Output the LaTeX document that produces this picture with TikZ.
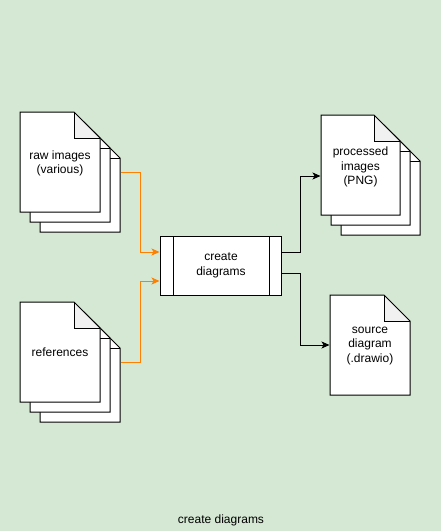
\documentclass[tikz,border=0pt]{standalone}
\usepackage{fontspec}
\setmainfont{Liberation Sans}
\usetikzlibrary{arrows.meta}
\definecolor{bg}{HTML}{D5E8D4}
\definecolor{foldgray}{HTML}{F1F1F1}
\definecolor{orng}{HTML}{FF8000}
\newcommand\docpage[5]{%
  \fill[white] (#1,#2) -- (#3-26,#2) -- (#3,#2+26) -- (#3,#4) -- (#1,#4) -- cycle;
  \fill[#5] (#3-26,#2) -- (#3-26,#2+26) -- (#3,#2+26) -- cycle;
  \draw (#3-26,#2) -- (#3-26,#2+26) -- (#3,#2+26);
  \draw (#1,#2) -- (#3-26,#2) -- (#3,#2+26) -- (#3,#4) -- (#1,#4) -- cycle;
}
\newcommand\docstack[4]{% x0 y0 x1 y1 of front page
  \docpage{#1+20}{#2+20}{#3+20}{#4+20}{white}
  \docpage{#1+10}{#2+10}{#3+10}{#4+10}{white}
  \docpage{#1}{#2}{#3}{#4}{foldgray}
}
\tikzset{
  lbl/.style={align=center, font=\fontsize{12}{14.5}\selectfont, inner sep=0pt},
  area/.style={inner sep=0pt, draw=none},
  orangeflow/.style={draw=orng, line width=1pt, -{Stealth[length=8pt,width=7pt,inset=2pt]}},
  blackflow/.style={draw=black, line width=1pt, -{Stealth[length=8pt,width=7pt,inset=2pt]}},
}
\begin{document}
\begin{tikzpicture}[x=1pt, y=-1pt, line width=1pt, line join=miter]
\useasboundingbox (0,0) rectangle (441,531);
\fill[bg] (0,0) rectangle (441,531);

% raw images stack
\docstack{20}{112}{100}{212}
\node[area, minimum width=100pt, minimum height=120pt] (raw) at (70,172) {};
\node[lbl] (rawtxt) at (60,163.5) {raw images\\(various)};

% references stack
\docstack{20}{302}{100}{402}
\node[area, minimum width=100pt, minimum height=120pt] (refs) at (70,362) {};
\node[lbl] (refstxt) at (60,352) {references};

% processed images stack
\docstack{321}{115}{400}{215}
\node[area, minimum width=99pt, minimum height=120pt] (proc) at (370.5,175) {};
\node[lbl] (proctxt) at (360.5,167) {processed\\images\\(PNG)};

% source diagram
\docpage{330}{295}{410}{395}{foldgray}
\node[area, minimum width=80pt, minimum height=100pt] (src) at (370,345) {};
\node[lbl] (srctxt) at (370,346) {source\\diagram\\(.drawio)};

% process box
\node[draw, fill=white, minimum width=121pt, minimum height=59pt, inner sep=0pt] (box) at (220.5,265.5) {};
\draw (173,236) -- (173,295);
\draw (269,236) -- (269,295);
\node[lbl] (boxtxt) at (221,265.5) {create\\diagrams};

% connectors
\draw[orangeflow] (raw.east) -| (140,252) -- ([yshift=13.5pt]box.west);
\draw[orangeflow] (refs.east) -| (140,281) -- ([yshift=-15.5pt]box.west);
\draw[blackflow] ([yshift=13.5pt]box.east) -| (300,176) -- ([yshift=-1pt]proc.west);
\draw[blackflow] ([yshift=-7.5pt]box.east) -| (300,345) -- (src.west);

% caption
\node[lbl] (caption) at (221,520) {create diagrams};
\end{tikzpicture}
\end{document}
